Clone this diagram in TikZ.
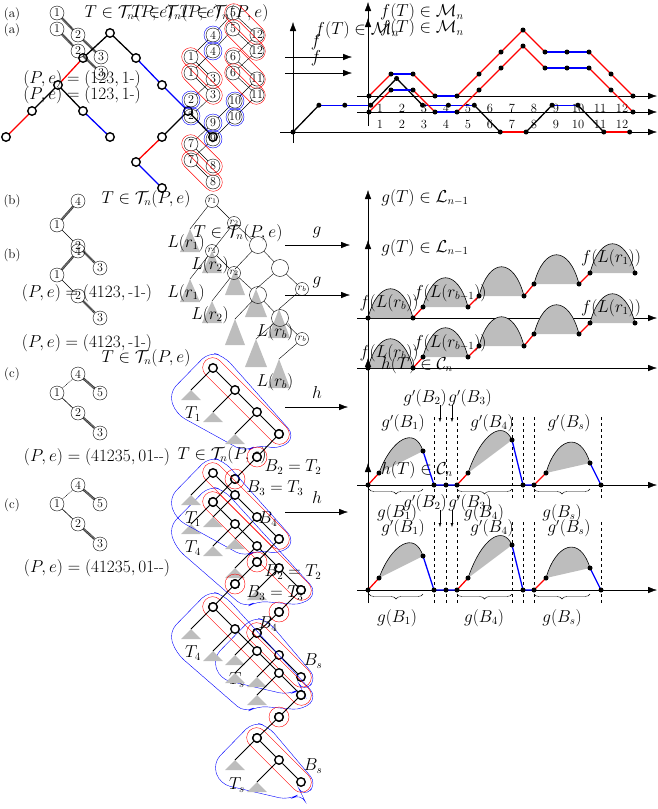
\documentclass[tikz,border=0pt]{standalone}
\usepackage{amsmath}
\usetikzlibrary{arrows.meta,decorations.pathreplacing,calc}
\definecolor{hgray}{gray}{0.74}
\tikzset{
  cn/.style={circle,draw,inner sep=0pt,minimum size=14pt,font=\fontsize{12}{12}\selectfont},
  rn/.style={circle,draw,inner sep=0pt,minimum size=13pt,font=\fontsize{10}{10}\selectfont},
  on/.style={circle,draw,line width=1.4pt,fill=white,inner sep=0pt,minimum size=8.5pt},
  bn/.style={circle,draw,inner sep=0pt,minimum size=17pt},
  dn/.style={circle,fill,inner sep=0pt,minimum size=5pt},
  ax/.style={-{Latex[length=9pt,width=6.5pt]}},
  hatch/.style={line width=2.4pt,dash pattern=on 0.7pt off 0.7pt},
  thinedge/.style={line width=0.6pt},
  dotedge/.style={line width=0.6pt,densely dotted},
  big/.style={font=\fontsize{16}{16}\selectfont},
  huge3/.style={font=\fontsize{18.5}{18.5}\selectfont},
  lab/.style={font=\fontsize{13}{13}\selectfont},
  tick/.style={font=\fontsize{12.5}{12.5}\selectfont},
  rstep/.style={red,line width=1.3pt},
  bstep/.style={blue,line width=1.3pt},
  kstep/.style={black,line width=1.3pt},
  tri/.style={fill=hgray},
}
% ---------- section (a), one copy ----------
\newcommand{\SecA}{%
  \node[lab] at (12,14) {(a)};
  \node[cn] (a1) at (57,13) {1};
  \node[cn] (a2) at (78,35) {2};
  \node[cn] (a3) at (101,57) {3};
  \draw[hatch] (a1)--(a2); \draw[hatch] (a2)--(a3);
  \node[big] at (82,79) {$(P,e) = (123,1\text{-})$};
  % labelled tree
  \node[cn] (t5) at (233,13) {5};
  \node[cn] (t4) at (213,35) {4};
  \node[cn] (t12) at (257,35) {12};
  \node[cn] (t1) at (191,57) {1};
  \node[cn] (t6) at (233,57) {6};
  \node[cn] (t3) at (213,79) {3};
  \node[cn] (t11) at (257,79) {11};
  \node[cn] (t2) at (191,100) {2};
  \node[cn] (t10) at (235,101) {10};
  \node[cn] (t9) at (213,123) {9};
  \node[cn] (t7) at (191,144) {7};
  \node[cn] (t8) at (213,166) {8};
  \foreach \u/\v in {t5/t4,t5/t12,t4/t1,t1/t3,t3/t2,t12/t6,t6/t11,t11/t10,t10/t9,t9/t7,t7/t8}
    \draw (\u)--(\v);
  \foreach \n in {t4,t2,t10,t9} \draw[blue] (\n) circle (9pt);
  \foreach \u/\v in {t5/t12,t1/t3,t6/t11,t7/t8}
    \node[draw=red,rounded corners=9pt,minimum width=50pt,minimum height=18pt,rotate=-45] at ($(\u)!0.5!(\v)$) {};
  % arrow f
  \coordinate (fa) at (285,57); \coordinate (fb) at (352,57);
  \draw[ax] (fa)--(fb);
  \node[big] at (316,42) {$f$};
  % axes
  \draw[ax] (368,110)--(368,2);
  \draw[ax] (357,96)--(657,96);
  \foreach \i in {1,...,12} \node[tick] at ({369+22*(\i-0.5)},108) {\i};
  \foreach \k/\l in {0/0,1/1,2/1,3/0,4/0,5/1,6/2,7/3,8/2,9/2,10/2,11/1,12/0}
    \coordinate (m\k) at ({369+22*\k},{96-22*\l});
  \foreach \a/\b/\s in {0/1/rstep,1/2/bstep,2/3/rstep,3/4/bstep,4/5/rstep,5/6/rstep,6/7/rstep,7/8/rstep,8/9/bstep,9/10/bstep,10/11/rstep,11/12/rstep}
    \draw[\s] (m\a)--(m\b);
  \foreach \k in {0,...,12} \node[dn] at (m\k) {};
  \node[big] at (422,12.5) {$f(T)\in\mathcal{M}_n$};
}
% ---------- section (b), one copy ----------
\newcommand{\SecB}{%
  \node[cn] (b4) at (78,201) {4};
  \node[cn] (b1) at (57,225) {1};
  \node[cn] (b2) at (78,246) {2};
  \node[cn] (b3) at (100,268) {3};
  \draw[hatch] (b4)--(b1); \draw[thinedge] (b1)--(b2); \draw[hatch] (b2)--(b3);
  \node[big] at (87,293) {$(P,e) = (4123,\text{-}1\text{-})$};
  % r-tree
  \node[rn] (r1) at (212,201) {$r_1$};
  \node[rn] (r2) at (234,223) {$r_2$};
  \node[bn] (r3) at (258,245) {};
  \node[bn] (r4) at (280,268) {};
  \node[rn] (rb) at (302,289) {$r_b$};
  \draw (r1)--(r2); \draw (r2)--(r3); \draw (r3)--(r4); \draw (r4)--(rb);
  \foreach \n/\x/\y/\w/\h in {r1/190/229/10/23, r2/212/251/10/22, r3/235/269/10/26, r4/256/289/11/28, rb/279/309/11/29}{
    \coordinate (ap\n) at (\x,\y);
    \fill[tri] (ap\n) -- ++(-\w,\h) -- ++(2*\w,0) -- cycle;
    \draw (\n)--(ap\n);
  }
  \node[big] at (186,243) {$L(r_1)$};
  \node[big] at (210,265) {$L(r_2)$};
  \node[big] at (275,332) {$L(r_b)$};
  % arrow g
  \coordinate (ga) at (285,245); \coordinate (gb) at (350,245);
  \draw[ax] (ga)--(gb);
  \node[big] at (317,232) {$g$};
  % axes
  \draw[ax] (368,330)--(368,190);
  \draw[ax] (357,318)--(657,318);
  \node[big] at (425,198) {$g(T)\in\mathcal{L}_{n-1}$};
  \foreach \i/\xa/\ya in {1/368/318, 2/423/307, 3/479/296, 4/534/284, 5/590/273}{
    \coordinate (ha\i) at (\xa,\ya);
    \coordinate (hb\i) at ({\xa+45},\ya);
    \fill[tri] (ha\i) .. controls ++(10,-39) and ++(-10,-39) .. (hb\i) -- cycle;
    \draw[thinedge] (ha\i) .. controls ++(10,-39) and ++(-10,-39) .. (hb\i);
  }
  \foreach \i/\j in {1/2,2/3,3/4,4/5} \draw[rstep] (hb\i)--(ha\j);
  \foreach \i in {1,...,5} {\node[dn] at (ha\i) {}; \node[dn] at (hb\i) {};}
  \node[big] at (389,303) {$f(L(r_b))$};
  \node[big] at (450,293) {$f(L(r_{b-1}))$};
  \node[big] at (611,258) {$f(L(r_1))$};
}
% ---------- section (c), left tree ----------
\newcommand{\SecCleft}{%
  \node[cn] (c4) at (78,374) {4};
  \node[cn] (c1) at (57,393) {1};
  \node[cn] (c5) at (100,393) {5};
  \node[cn] (c2) at (78,413) {2};
  \node[cn] (c3) at (100,433) {3};
  \draw[dotedge] (c4)--(c1); \draw[hatch] (c4)--(c5); \draw[thinedge] (c1)--(c2); \draw[hatch] (c2)--(c3);
  \node[big] at (97,457) {$(P,e) = (41235,01\text{-}\text{-})$};
}
% one block of the block tree: x, y, number of nodes
\newcommand{\Grp}[3]{%
  \pgfmathsetmacro\gxe{#1+22*(#3-1)}%
  \pgfmathsetmacro\gye{#2+22*(#3-1)}%
  \draw[blue,rounded corners=10pt] (#1-4,#2-16) -- (#1-44,#2+25) -- (#1-37,#2+46) -- (#1+32,\gye+18) -- (#1+44,\gye+11) -- (\gxe+2,\gye+15) -- (\gxe+16,\gye+2) -- (#1+11,#2-12) -- cycle;
  \node[draw=red,rounded corners=10pt,minimum width={31.1*(#3-1)+21},minimum height=20pt,rotate=-45] at ({(#1+\gxe)/2},{(#2+\gye)/2}) {};
  \foreach \i in {1,...,#3} \node[on] (g\i) at ({#1+22*(\i-1)},{#2+22*(\i-1)}) {};
  \foreach \i [evaluate=\i as \j using int(\i+1)] in {1,...,#3} {\ifnum\i<#3 \draw[line width=0.9pt] (g\i)--(g\j);
      \coordinate (gt\i) at ({#1+22*(\i-1)-22},{#2+22*(\i-1)+22});
      \fill[tri] (gt\i) -- ++(-10,10) -- ++(20,0) -- cycle;
      \draw[line width=0.9pt] (g\i)--(gt\i);\fi}
  \coordinate (gfirst) at (g1); \coordinate (glast) at (g#3);
}
% ---------- section (c), right part ----------
\newcommand{\SecCright}{%
  % arrow h
  \coordinate (hha) at (285,407); \coordinate (hhb) at (348,407);
  \draw[ax] (hha)--(hhb);
  \node[big] at (317,392) {$h$};
  % axes
  \draw[ax] (368,498)--(368,358);
  \draw[ax] (357,485)--(657,485);
  \node[big] at (417,365) {$h(T)\in\mathcal{C}_n$};
  \foreach \x in {434,446,457,512,523,534,601} \draw[dashed,thinedge] (\x,417)--(\x,498);
  \coordinate (q0) at (368,485); \coordinate (q1) at (379,473); \coordinate (q2) at (423,451);
  \coordinate (q3) at (434,485); \coordinate (q4) at (446,485); \coordinate (q5) at (457,485);
  \coordinate (q6) at (468,473); \coordinate (q7) at (512,440); \coordinate (q8) at (523,485);
  \coordinate (q9) at (534,485); \coordinate (q10) at (546,473); \coordinate (q11) at (590,463);
  \coordinate (q12) at (601,485);
  \fill[tri] (q1) .. controls (392,438) and (415,426) .. (q2) -- cycle;
  \draw[thinedge] (q1) .. controls (392,438) and (415,426) .. (q2);
  \fill[tri] (q6) .. controls (482,432) and (503,420) .. (q7) -- cycle;
  \draw[thinedge] (q6) .. controls (482,432) and (503,420) .. (q7);
  \fill[tri] (q10) .. controls (556,438) and (580,430) .. (q11) -- cycle;
  \draw[thinedge] (q10) .. controls (556,438) and (580,430) .. (q11);
  \draw[rstep] (q0)--(q1); \draw[bstep] (q2)--(q3)--(q4)--(q5); \draw[rstep] (q5)--(q6);
  \draw[bstep] (q7)--(q8)--(q9); \draw[rstep] (q9)--(q10); \draw[bstep] (q11)--(q12);
  \foreach \k in {0,...,12} \node[dn] at (q\k) {};
  \node[big] at (403,423) {$g'(B_1)$};
  \node[big] at (425,398) {$g'(B_2)$};
  \node[big] at (470,398) {$g'(B_3)$};
  \draw[-{Latex[length=4pt,width=3pt]}] (440,405)--(440,422);
  \draw[-{Latex[length=4pt,width=3pt]}] (452,405)--(452,422);
  \node[big] at (492,423) {$g'(B_4)$};
  \node[big] at (569,423) {$g'(B_s)$};
  \draw[decorate,decoration={brace,amplitude=5pt,mirror}] (369,489)--(423,489);
  \draw[decorate,decoration={brace,amplitude=5pt,mirror}] (457,489)--(512,489);
  \draw[decorate,decoration={brace,amplitude=5pt,mirror}] (534,489)--(590,489);
  \node[big] at (397,513) {$g(B_1)$};
  \node[big] at (484,513) {$g(B_4)$};
  \node[big] at (562,513) {$g(B_s)$};
  % block tree
  \Grp{213}{368}{4} \coordinate (e1) at (glast);
  \node[on] (s2) at (257,457) {}; \draw[red] (s2) circle (10pt);
  \node[on] (s3) at (235,479) {}; \draw[red] (s3) circle (10pt);
  \Grp{213}{502}{5} \coordinate (f2) at (gfirst); \coordinate (e2) at (glast);
  \node[on] (s4) at (279,612) {}; \draw[red] (s4) circle (10pt);
  \Grp{257}{633}{3} \coordinate (f3) at (gfirst);
  \draw[line width=0.9pt] (e1)--(s2); \draw[line width=0.9pt] (s2)--(s3); \draw[line width=0.9pt] (s3)--(f2);
  \draw[line width=0.9pt] (e2)--(s4); \draw[line width=0.9pt] (s4)--(f3);
  \node[on] at (e1) {}; \node[on] at (f2) {}; \node[on] at (e2) {}; \node[on] at (f3) {};
  \node[on] at (s2) {}; \node[on] at (s3) {}; \node[on] at (s4) {};
  \node[big] at (193,414) {$T_1$};
  \node[big] at (293,467) {$B_2=T_2$};
  \node[big] at (275,488) {$B_3=T_3$};
  \node[big] at (193,548) {$T_4$};
  \node[big] at (268,519) {$B_4$};
  \node[big] at (237,680) {$T_s$};
  \node[big] at (313,661) {$B_s$};
}
\begin{document}
\begin{tikzpicture}[x=1pt,y=-1pt]
\useasboundingbox (0,0) rectangle (658,809);
% third, larger drawing: black tree and path of (a)
\foreach \n/\x/\y in {A/110/33,B/83/58,C/136/58,D/162/85,E/58/85,F/32/111,G/83/111,H/6/137,I/110/137,J/188/111,K/162/137,L/136/162,M/213/137,N/162/188}
  \coordinate (v\n) at (\x,\y);
\foreach \u/\v/\c in {A/B/black,B/E/red,E/F/black,F/H/red,E/G/black,G/I/blue,A/C/black,C/D/blue,D/J/blue,J/K/black,K/L/red,J/M/black,L/N/blue}
  \draw[\c,line width=1.3pt] (v\u)--(v\v);
\foreach \n in {A,B,C,D,E,F,G,H,I,J,K,L,M,N} \node[on] at (v\n) {};
\draw[ax] (293,143)--(293,22);
\draw[ax] (280,132)--(657,132);
\foreach \k/\l in {0/0,1/1,2/1,3/1,4/2,5/1,6/1,7/1,8/0,9/0,10/1,11/1,12/0,13/0}
  \coordinate (w\k) at ({293+25.9*\k},{132-26.8*\l});
\foreach \a/\b/\s in {0/1/kstep,1/2/bstep,2/3/bstep,3/4/kstep,4/5/kstep,5/6/bstep,6/7/bstep,7/8/kstep,8/9/rstep,9/10/kstep,10/11/bstep,11/12/kstep,12/13/rstep}
  \draw[\s] (w\a)--(w\b);
\foreach \k in {0,...,13} \node[dn] at (w\k) {};
\node[huge3] at (357,30) {$f(T)\in\mathcal{M}_n$};
% titles
\node[big] at (129,13) {$T\in\mathcal{T}_n(P,e)$};
\node[big] at (176,13) {$T\in\mathcal{T}_n(P,e)$};
\node[big] at (224,13) {$T\in\mathcal{T}_n(P,e)$};
\node[big] at (146,199) {$T\in\mathcal{T}_n(P,e)$};
\node[big] at (238,233) {$T\in\mathcal{T}_n(P,e)$};
\node[big] at (146,358) {$T\in\mathcal{T}_n(P,e)$};
\node[big] at (222,455) {$T\in\mathcal{T}_n(P,e)$};
% labels
\node[lab] at (12,201) {(b)};
\node[lab] at (12,255) {(b)};
\node[lab] at (12,374) {(c)};
\node[lab] at (12,505) {(c)};
% two copies of the figure
\SecA
\begin{scope}[shift={(0,16)}]\SecA\end{scope}
\SecB
\begin{scope}[shift={(0,50)}]\SecB\end{scope}
\SecCleft
\begin{scope}[shift={(0,111)}]\SecCleft\end{scope}
\SecCright
\begin{scope}[shift={(0,105)}]\SecCright\end{scope}
\end{tikzpicture}
\end{document}
